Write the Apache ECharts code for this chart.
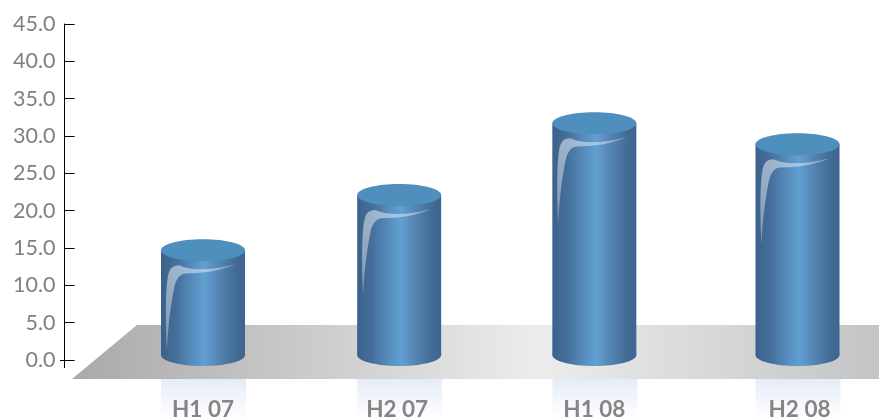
<!DOCTYPE html>
<html><head><meta charset="utf-8">
<style>html,body{margin:0;padding:0;background:#fff}#c{width:879px;height:419px}</style>
<script src="https://cdn.jsdelivr.net/npm/echarts@6/dist/echarts.min.js"></script>
</head><body><div id="c"></div>
<script>
const categories = ['H1 07','H2 07','H1 08','H2 08'];
const values = [14.7, 22.1, 31.7, 28.9];
const yTicks = {min:0,max:45,interval:5};
// small horizontal departures of the hand-placed columns from the even category spacing (px)
const nudges = [0,-2,-5,0];
const labelNudges = [0,-4,-5,2];

const HW = 42, RY = 11, FONT = 'Lato, "Noto Sans", sans-serif';
const chart = echarts.init(document.getElementById('c'),null,{renderer:'canvas'});
const sideFill = () => new echarts.graphic.LinearGradient(0,0,1,0,[
  {offset:0,color:'#3b618a'},{offset:0.18,color:'#456f9b'},{offset:0.42,color:'#5a93c4'},
  {offset:0.52,color:'#629fd2'},{offset:0.68,color:'#5586b4'},{offset:0.88,color:'#436d96'},{offset:1,color:'#3d648c'}]);

function renderItem(params, api){
  const i = api.value(0);
  const top = api.coord([i, api.value(1)]);
  const zero = api.coord([i, 0]);
  const cx = top[0] + nudges[i];
  const ty = top[1], by = zero[1] - 5;
  const H = (dx,dy)=> (cx+dx).toFixed(1)+' '+(ty+dy).toFixed(1);
  const glint = 'M'+H(-36,100)+' C'+H(-38,60)+' '+H(-37,30)+' '+H(-34,22)+' Q'+H(-32,15)+' '+H(-24,15)
    +' C'+H(-12,21)+' '+H(10,20)+' '+H(32,14)+' C'+H(15,21)+' '+H(0,23)+' '+H(-14,23)
    +' C'+H(-22,23)+' '+H(-25,26)+' '+H(-28,34)+' C'+H(-32,52)+' '+H(-35,75)+' '+H(-36,100)+' Z';
  return {type:'group',children:[
    {type:'rect',shape:{x:cx-HW,y:379,width:HW*2+1,height:40},silent:true,
      style:{fill:new echarts.graphic.LinearGradient(0,0,0,1,[{offset:0,color:'#e5ecf8'},{offset:1,color:'#ffffff'}])}},
    {type:'ellipse',shape:{cx:cx,cy:by,rx:HW,ry:RY},style:{fill:sideFill()}},
    {type:'rect',shape:{x:cx-HW,y:ty,width:HW*2,height:by-ty},style:{fill:sideFill()}},
    {type:'ellipse',shape:{cx:cx,cy:ty,rx:HW,ry:RY},style:{fill:'#4e8fbe'}},
    {type:'path',shape:{pathData:glint,layout:'none'},
      style:{fill:new echarts.graphic.LinearGradient(0,0,1,1,[
        {offset:0,color:'rgba(255,255,255,0.5)'},{offset:1,color:'rgba(255,255,255,0.22)'}])}}
  ]};
}

chart.setOption({
  animation:false,
  backgroundColor:'#fff',
  grid:{left:203,right:81.5,top:24,bottom:59,outerBoundsMode:'none'},
  graphic:[
    {type:'polygon',z:-1,silent:true,shape:{points:[[72,379],[137,325],[879,325],[879,379]]},
      style:{fill:new echarts.graphic.LinearGradient(0,0,1,0,[
        {offset:0,color:'#a9a9ab'},{offset:0.58,color:'#ececec'},{offset:1,color:'#c3c4c5'}])}},
    {type:'line',silent:true,shape:{x1:64.5,y1:360,x2:64.5,y2:368},style:{stroke:'#000',lineWidth:1}},
    {type:'line',silent:true,shape:{x1:60,y1:360.5,x2:65,y2:360.5},style:{stroke:'#000',lineWidth:1}}
  ],
  xAxis:{type:'category',data:categories,boundaryGap:false,z:6,
    axisLine:{show:false},axisTick:{show:false},
    axisLabel:{margin:38,interval:0,
      formatter:(v,i)=>'{l'+i+'|'+v+'}',
      rich:Object.fromEntries(labelNudges.map((n,i)=>['l'+i,{
        fontFamily:FONT,fontWeight:'bold',fontSize:22.5,color:'#858585',
        padding:n<0?[0,-2*n,0,0]:[0,0,0,2*n]}]))}},
  yAxis:{type:'value',min:yTicks.min,max:yTicks.max,interval:yTicks.interval,offset:138.5,
    splitLine:{show:false},
    axisLine:{show:true,lineStyle:{color:'#000',width:1}},
    axisTick:{show:true,inside:true,length:10,lineStyle:{color:'#000',width:1}},
    axisLabel:{margin:9,fontFamily:FONT,fontSize:21.5,color:'#808080',formatter:v=>v.toFixed(1)}},
  series:[{type:'custom',renderItem,clip:false,z:2,
    encode:{x:0,y:1},
    data:values.map((v,i)=>[i,v])}]
});
</script></body></html>
